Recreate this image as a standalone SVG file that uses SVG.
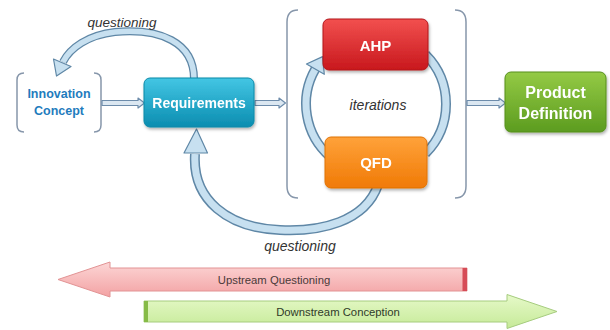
<svg xmlns="http://www.w3.org/2000/svg" width="610" height="330" viewBox="0 0 610 330">
<defs>
<style>
.node-text{font-family:"Liberation Sans",Arial,sans-serif;font-weight:bold;fill:#ffffff;text-anchor:middle}
.ital{font-family:"Liberation Sans",Arial,sans-serif;font-style:italic;fill:#333333;text-anchor:middle}
.bar-text{font-family:"Liberation Sans",Arial,sans-serif;fill:#4a3a3a;text-anchor:middle;font-size:11.3px}
.bracket{fill:none;stroke:#8797ab;stroke-width:1.5}
.band-outer{fill:none;stroke:#5f87a6;stroke-linecap:butt}
.band-inner{fill:none;stroke:#c7e0f0;stroke-linecap:butt}
.head{fill:#c7e0f0;stroke:#5f87a6;stroke-width:1.2;stroke-linejoin:round}
.hollow{fill:#dbe7f1;stroke:#6d8cab;stroke-width:1.2;stroke-linejoin:round}
</style>
<linearGradient id="gReq" x1="0" y1="0" x2="0" y2="1"><stop offset="0" stop-color="#43c6e4"/><stop offset="1" stop-color="#0b8db0"/></linearGradient>
<linearGradient id="gAhp" x1="0" y1="0" x2="0" y2="1"><stop offset="0" stop-color="#f2504f"/><stop offset="1" stop-color="#c8181d"/></linearGradient>
<linearGradient id="gQfd" x1="0" y1="0" x2="0" y2="1"><stop offset="0" stop-color="#ffa23a"/><stop offset="1" stop-color="#f07a06"/></linearGradient>
<linearGradient id="gPd" x1="0" y1="0" x2="0" y2="1"><stop offset="0" stop-color="#94ca45"/><stop offset="1" stop-color="#5c9c1f"/></linearGradient>
<linearGradient id="gUp" x1="0" y1="0" x2="0" y2="1"><stop offset="0" stop-color="#fcd6d6"/><stop offset="1" stop-color="#f3a2a3"/></linearGradient>
<linearGradient id="gDown" x1="0" y1="0" x2="0" y2="1"><stop offset="0" stop-color="#e6f9c9"/><stop offset="1" stop-color="#c6ea98"/></linearGradient>
<filter id="sh" x="-10%" y="-10%" width="125%" height="135%"><feDropShadow dx="1" dy="2" stdDeviation="1.5" flood-color="#000" flood-opacity="0.3"/></filter>
</defs>
<rect width="610" height="330" fill="#ffffff"/>

<g id="brackets">
<path class="bracket" d="M24,73 Q17,73 17,80 L17,125 Q17,132 24,132"/>
<path class="bracket" d="M94,73 Q101,73 101,80 L101,125 Q101,132 94,132"/>
<path class="bracket" d="M298,10 Q287,10 287,22 L287,186 Q287,198 298,198"/>
<path class="bracket" d="M455,10 Q466,10 466,22 L466,186 Q466,198 455,198"/>
</g>

<g id="connectors">
<polygon class="hollow" points="102,100.5 138,100.5 138,98 144.5,103 138,108 138,105.5 102,105.5"/>
<polygon class="hollow" points="255,100.5 279,100.5 279,98 285.5,103 279,108 279,105.5 255,105.5"/>
<polygon class="hollow" points="467,100.5 499,100.5 499,98 505.5,103 499,108 499,105.5 467,105.5"/>
<!-- top questioning -->
<path class="band-outer" stroke-width="8" d="M194,79 C194,42 160,28 115,32 C88,35 70,48 63,62"/>
<path class="band-inner" stroke-width="5.5" d="M194,79 C194,42 160,28 115,32 C88,35 70,48 63,62"/>
<polygon class="head" points="53.5,59 71,66.5 56.5,76"/>
<!-- iterations cycle -->
<path class="band-outer" stroke-width="10" d="M425.5,54.5 A70,70 0 0 1 425.5,153.5"/>
<path class="band-inner" stroke-width="7" d="M425.5,54.5 A70,70 0 0 1 425.5,153.5"/>
<path class="band-outer" stroke-width="10" d="M330.1,156.8 A70,70 0 0 1 315.4,69"/>
<path class="band-inner" stroke-width="7" d="M330.1,156.8 A70,70 0 0 1 315.4,69"/>
<polygon class="head" points="306.5,64 324.3,74.3 322.6,56.6"/>
<!-- bottom questioning -->
<path class="band-outer" stroke-width="10" d="M378,185 C365,222 320,232 280,230 C228,228 192,200 195,154"/>
<path class="band-inner" stroke-width="7" d="M378,185 C365,222 320,232 280,230 C228,228 192,200 195,154"/>
<polygon class="head" points="184,153 207.5,153 196.5,129"/>
</g>

<g id="innovation-concept">
<text x="59" y="98" style="font-family:'Liberation Sans',Arial,sans-serif;font-weight:bold;font-size:12.5px;fill:#1f7cbd;text-anchor:middle">Innovation</text>
<text x="59" y="115" style="font-family:'Liberation Sans',Arial,sans-serif;font-weight:bold;font-size:12.5px;fill:#1f7cbd;text-anchor:middle">Concept</text>
</g>

<g id="requirements" filter="url(#sh)">
<rect x="144" y="78" width="110" height="49" rx="6" fill="url(#gReq)" stroke="#0d89a8" stroke-width="1"/>
<text class="node-text" x="199" y="108" font-size="14">Requirements</text>
</g>

<g id="ahp" filter="url(#sh)">
<rect x="323" y="19" width="105" height="51" rx="6" fill="url(#gAhp)" stroke="#b3161a" stroke-width="1"/>
<text class="node-text" x="375.5" y="51" font-size="15">AHP</text>
</g>

<g id="qfd" filter="url(#sh)">
<rect x="325" y="137" width="102" height="51" rx="6" fill="url(#gQfd)" stroke="#e07206" stroke-width="1"/>
<text class="node-text" x="376" y="168" font-size="15">QFD</text>
</g>

<g id="product-definition" filter="url(#sh)">
<rect x="505" y="72" width="101" height="60" rx="6" fill="url(#gPd)" stroke="#568f1d" stroke-width="1"/>
<text class="node-text" x="555.5" y="98" font-size="16">Product</text>
<text class="node-text" x="555.5" y="119" font-size="16">Definition</text>
</g>

<g id="labels">
<text class="ital" x="122" y="27" font-size="13.5">questioning</text>
<text class="ital" x="378" y="110" font-size="14">iterations</text>
<text class="ital" x="300" y="251" font-size="14">questioning</text>
</g>

<g id="upstream">
<polygon points="58,279.5 110,262 110,268 467,268 467,291 110,291 110,297" fill="url(#gUp)" stroke="#e29394" stroke-width="1"/>
<rect x="462.5" y="268" width="4.5" height="23" fill="#d64c57"/>
<text class="bar-text" x="274" y="284">Upstream Questioning</text>
</g>

<g id="downstream">
<polygon points="144,301 507,301 507,294.5 557,311.5 507,328.5 507,322 144,322" fill="url(#gDown)" stroke="#a6cc7f" stroke-width="1"/>
<rect x="144" y="301" width="4" height="21" fill="#86bb47"/>
<text class="bar-text" x="338" y="316" style="fill:#2f3a2a">Downstream Conception</text>
</g>
</svg>
